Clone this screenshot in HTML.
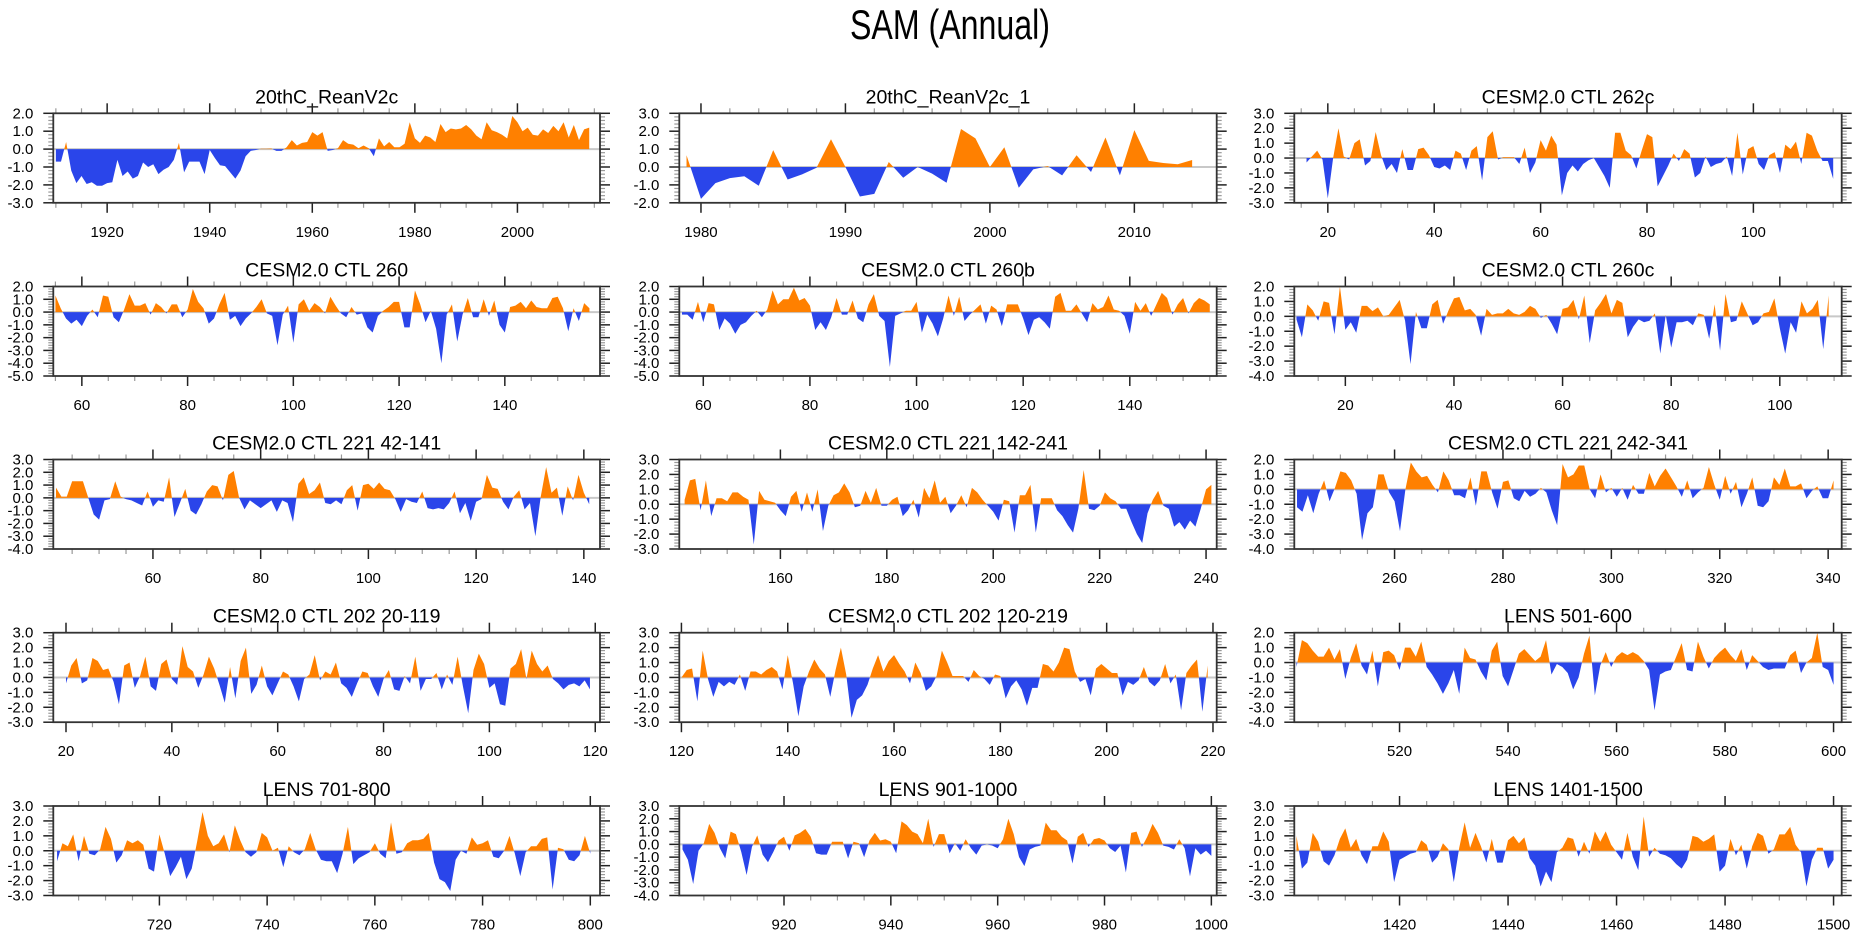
<!DOCTYPE html>
<html><head><meta charset="utf-8"><title>SAM (Annual)</title>
<style>
html,body{margin:0;padding:0;background:#fff;}
svg{display:block;font-family:"Liberation Sans",Arial,sans-serif;}
</style></head>
<body>
<svg id="chart" width="1861" height="936" viewBox="0 0 1861 936" xmlns="http://www.w3.org/2000/svg">
<text x="950" y="39" text-anchor="middle" font-size="42" textLength="200" lengthAdjust="spacingAndGlyphs" fill="#000">SAM (Annual)</text>
</svg>
<script>
const panelTitles = ["20thC_ReanV2c","20thC_ReanV2c_1","CESM2.0 CTL 262c","CESM2.0 CTL 260","CESM2.0 CTL 260b","CESM2.0 CTL 260c","CESM2.0 CTL 221 42-141","CESM2.0 CTL 221 142-241","CESM2.0 CTL 221 242-341","CESM2.0 CTL 202 20-119","CESM2.0 CTL 202 120-219","LENS 501-600","LENS 701-800","LENS 901-1000","LENS 1401-1500"];
const startYears = [1910,1979,16,55,56,11,42,142,242,20,120,501,701,901,1401];
const xMins = [1909.5,1978.5,13.7,54.6,55.5,10.6,41.5,141,241.5,17.6,119.6,500.6,700.3,900.4,1400.6];
const xMaxs = [2016.1,2015.7,116.6,158,156.3,111.4,143,242,342.5,120.9,220.7,601.5,801.8,1001,1501.5];
const yMins = [-3,-2,-3,-5,-5,-4,-4,-3,-4,-3,-3,-4,-3,-4,-3];
const yMaxs = [2,3,3,2,2,2,3,3,2,3,3,2,3,3,3];
const majorSteps = [20,10,20,20,20,20,20,20,20,20,20,20,20,20,20];
const minorSteps = [5,2,5,5,5,5,5,5,5,5,5,5,5,5,5];

const v0 = [-0.7,-0.7,0.4,-1.2,-1.9,-1.5,-1.95,-1.85,-2.05,-2.05,-1.9,-1.85,-0.6,-1.5,-1.25,-1.65,-1.5,-0.75,-1.0,-0.85,-1.4,-1.15,-1.0,-0.6,0.35,-1.3,-0.7,-0.7,-0.7,-1.4,-0.05,-0.5,-0.9,-0.95,-1.3,-1.65,-1.2,-0.4,-0.1,-0.05,0.02,0.02,0.03,-0.1,-0.1,0.1,0.5,0.2,0.35,0.4,0.95,0.75,0.95,-0.1,-0.05,0.05,0.5,0.3,0.25,0.05,0.2,0.05,-0.4,0.6,0.15,0.4,0.1,0.1,0.3,1.5,0.6,0.35,0.75,0.65,0.4,1.4,0.95,1.15,1.1,1.15,1.35,1.1,0.75,0.55,1.5,1.05,0.95,0.8,0.6,1.85,1.5,1.0,1.2,0.8,0.75,1.1,0.9,1.3,1.0,1.5,0.65,1.35,0.5,1.1,1.2];
const v1 = [0.66,-1.78,-0.9,-0.62,-0.52,-1.05,0.94,-0.7,-0.41,-0.04,1.55,0.0,-1.65,-1.5,0.28,-0.6,0.0,-0.37,-0.88,2.12,1.6,0.0,1.1,-1.16,-0.13,0.05,-0.47,0.66,-0.28,1.65,-0.47,2.06,0.34,0.22,0.15,0.39];
const v2 = [-0.3,0.1,0.5,-0.1,-2.7,0.0,2.0,0.1,-0.1,1.0,1.25,-0.5,-0.2,1.75,0.2,-0.8,-0.4,-1.0,0.6,-0.8,-0.8,0.6,0.7,0.2,-0.6,-0.7,-0.5,-0.8,0.5,0.3,-0.8,0.5,0.8,-1.5,1.4,1.8,-0.1,0.05,0.05,0.05,-0.4,0.7,-1.0,-0.3,1.2,0.5,1.5,0.9,-2.5,-1.0,-0.5,-0.9,-0.4,-0.15,0.0,-0.6,-1.2,-2.0,1.7,1.7,0.5,0.2,-0.7,0.5,1.6,1.4,-1.9,-1.2,-0.5,0.3,-0.2,0.6,0.3,-1.3,-1.0,0.1,-0.6,-0.4,-0.3,0.1,-1.2,1.7,-1.1,0.6,0.8,-0.4,-0.8,0.2,0.4,-1.0,0.9,0.6,1.1,-0.4,1.7,1.5,0.5,-0.2,-0.2,-1.4];
const v3 = [1.3,0.3,-0.5,-0.9,-0.6,-1.1,-0.3,0.2,-0.4,1.3,1.2,-0.4,-0.8,0.2,1.4,0.5,0.5,0.7,-0.2,0.7,0.4,-0.1,0.6,0.6,-0.4,0.2,1.8,0.8,0.3,-0.9,-0.5,0.6,1.5,-0.6,-0.3,-1.1,-0.5,-0.1,0.4,1.0,-0.1,-0.3,-2.6,-0.2,0.5,-2.4,0.6,1.0,0.1,0.7,0.4,-0.1,1.2,0.5,-0.1,-0.4,0.4,-0.2,-0.1,-1.2,-1.6,-0.3,0.1,0.4,0.8,0.8,-1.2,-1.2,1.7,0.6,-0.8,0.1,-1.3,-4.0,-0.2,0.6,-2.3,-0.2,1.1,-0.4,-0.4,1.0,-0.3,0.9,-1.0,-1.6,0.4,0.5,0.8,0.3,0.9,0.4,0.3,0.3,1.1,1.2,0.3,-1.5,0.3,-0.7,0.7,0.3];
const v4 = [-0.2,-0.2,-0.6,0.8,-0.8,0.7,0.6,-1.4,-0.5,-0.9,-1.7,-1.0,-0.8,-0.3,0.1,-0.4,0.2,1.7,0.6,1.0,1.0,1.9,0.9,1.1,0.5,-1.4,-0.8,-1.4,-0.4,1.1,-0.2,-0.2,0.9,-0.5,-0.8,0.6,1.4,-0.3,-0.7,-4.3,-0.3,-0.1,0.1,0.1,0.8,-1.6,-0.2,-0.9,-1.9,-0.5,1.3,-0.3,1.2,-0.7,-0.2,0.2,0.6,-0.9,0.5,0.2,-1.1,0.6,0.6,0.6,-0.5,-1.8,-0.6,-0.4,-0.8,-1.3,1.2,1.5,0.1,0.1,0.6,-0.1,-0.8,0.7,0.2,0.4,1.3,0.2,0.1,-0.3,-1.7,0.8,0.1,0.7,-0.3,0.6,1.5,1.1,-0.2,0.6,1.1,-0.1,0.7,1.1,0.9,0.6];
const v5 = [-0.2,-1.4,0.8,0.4,-0.3,1.0,0.9,-1.2,2.0,-0.9,-0.4,-1.1,0.7,0.7,0.35,0.6,0.0,0.1,0.6,1.1,-0.3,-3.2,0.3,-0.8,-0.8,0.8,1.1,-0.5,0.4,1.2,1.3,0.4,0.5,0.1,-1.3,0.5,0.1,0.2,0.2,0.5,0.2,0.1,0.3,0.7,0.5,-0.1,0.1,-0.5,-1.2,0.5,0.6,1.1,-0.2,1.4,-1.8,0.4,0.9,1.5,0.2,1.1,0.9,-1.4,-0.7,-0.2,-0.4,-0.3,0.2,-2.5,0.1,-2.1,-0.4,-0.4,-0.3,-0.6,0.2,0.1,-1.5,0.8,-2.3,1.5,-0.4,-0.3,1.0,0.2,-0.6,-0.4,0.2,0.3,1.2,-0.8,-2.5,-0.4,-1.1,1.0,0.2,0.5,1.1,-2.2,1.4];
const v6 = [0.8,0.1,0.1,1.3,1.3,1.3,0.0,-1.3,-1.7,-0.2,-0.1,1.3,0.1,-0.1,-0.2,-0.4,-0.6,0.5,-0.7,-0.2,-0.3,1.6,-1.5,-0.4,0.7,-1.0,-1.3,-0.5,0.5,1.0,0.9,-0.2,1.8,2.1,0.0,-0.9,-0.2,-0.5,-0.8,-0.5,-0.2,-1.1,-0.2,-0.4,-1.9,1.1,1.6,0.3,0.6,1.2,-0.4,-0.5,-0.2,-0.5,0.6,1.0,-1.0,1.0,1.1,0.7,1.2,0.7,0.6,-0.1,-1.1,-0.1,-0.3,-0.4,0.5,-0.8,-0.9,-0.8,-0.9,-0.4,0.5,-1.2,-0.4,-1.8,-0.3,-0.1,1.8,0.8,0.7,-0.3,-0.9,0.1,0.6,-0.9,-0.4,-3.0,0.1,2.4,0.4,0.8,-1.4,0.9,-0.2,1.8,0.4,-0.5];
const v7 = [0.3,1.6,1.7,-0.4,1.6,-0.8,0.4,0.4,0.2,0.8,0.8,0.5,0.3,-2.7,0.9,0.3,0.2,0.1,-0.4,-0.8,0.5,0.9,-0.5,0.8,-0.5,1.0,-1.8,-0.1,0.6,0.8,1.4,0.8,-0.2,-0.1,0.9,0.1,1.1,-0.1,-0.1,0.3,0.5,-0.8,-0.4,0.3,-0.9,1.1,0.4,1.6,0.1,0.5,-0.6,-0.1,0.6,-0.2,1.1,0.8,0.3,-0.1,-0.5,-1.1,0.3,0.2,-1.9,0.6,0.6,1.3,-1.9,0.4,0.4,0.4,-0.4,-0.8,-1.4,-1.9,-0.3,2.3,-0.3,-0.4,-0.1,0.8,0.4,0.2,-0.3,-0.3,-1.2,-2.0,-2.6,-0.6,0.3,0.9,-0.1,-0.3,-1.5,-1.2,-1.7,-1.1,-1.5,-0.3,1.0,1.3];
const v8 = [-1.2,-1.5,-0.4,-1.6,-0.3,0.6,-0.8,0.1,1.2,1.1,0.6,-0.3,-3.4,-1.6,-1.2,1.0,1.0,-0.2,-0.8,-2.8,0.0,1.8,1.2,0.8,0.9,0.3,-0.2,1.2,0.6,-0.4,-0.4,-0.6,0.8,-1.1,1.2,1.2,-0.2,-1.3,0.5,0.6,-0.6,-0.8,-0.1,-0.5,-0.3,0.1,-0.2,-1.4,-2.4,1.7,0.8,1.0,1.6,1.6,0.0,-0.6,1.0,-0.2,0.1,-0.5,0.1,-0.7,0.3,-0.3,-0.3,1.1,0.2,0.9,1.4,0.8,0.2,-0.5,0.6,-0.6,-0.2,0.1,1.5,0.3,-0.7,0.9,-0.3,0.5,-1.2,-0.3,0.8,-1.1,-1.2,-0.8,0.8,0.3,1.4,0.2,0.2,0.4,-0.6,-0.1,0.2,-0.6,-0.6,0.6];
const v9 = [-0.4,0.8,1.3,-0.4,-0.2,1.3,1.1,0.5,0.6,-0.3,-1.8,0.8,1.0,-0.7,0.1,1.4,-0.6,-0.9,0.9,1.2,-0.1,-0.5,2.1,0.7,0.4,-0.7,0.2,1.4,0.6,-0.5,-1.7,0.7,-1.4,1.1,2.0,-1.1,-0.5,0.8,-0.6,-1.2,-0.4,0.4,0.2,-0.6,-1.6,-0.1,0.2,1.5,-0.2,0.4,0.2,1.0,-0.4,-0.7,-1.3,-0.4,0.4,0.3,-0.6,-1.3,-0.1,0.5,-0.8,-0.9,0.1,-0.4,1.4,-0.9,-0.1,-0.1,0.3,-0.8,0.2,-0.5,1.4,-0.6,-2.4,0.5,1.6,0.9,-0.7,-0.4,-1.8,-1.9,0.6,0.9,1.9,-0.1,1.8,0.9,0.4,0.8,-0.1,-0.4,-0.8,-0.5,-0.4,-0.6,-0.2,-0.8];
const v10 = [0.0,0.5,0.6,-1.6,1.8,-0.1,-1.3,-0.3,-0.6,-0.3,-0.5,0.2,-0.9,0.4,0.4,0.2,0.5,0.7,0.4,-0.8,1.5,-0.4,-2.6,-0.6,0.4,1.2,0.6,0.2,-1.3,0.5,2.0,0.2,-2.7,-1.5,-1.2,-0.5,0.6,1.5,0.4,1.1,1.5,0.9,0.4,-0.4,1.0,0.3,-0.9,-0.6,0.1,1.8,1.0,0.1,0.1,0.1,-0.3,0.5,0.1,-0.1,-0.5,0.2,0.1,-1.4,-0.6,-0.2,-0.8,-1.9,-0.7,-0.7,0.9,0.8,0.4,1.0,2.0,1.9,0.4,-0.3,-0.1,-1.2,0.6,0.9,0.6,0.3,0.3,-1.2,-0.3,-0.5,-0.2,0.7,-0.3,-0.6,-0.2,0.9,-0.4,0.2,-2.2,0.3,0.8,1.2,-2.3,0.8];
const v11 = [-0.3,1.5,1.3,0.8,0.4,0.4,1.0,0.2,0.9,-1.1,0.3,1.3,-0.2,-0.8,0.8,-1.6,0.7,0.8,0.5,-0.5,1.0,1.0,0.4,1.4,-0.3,-0.8,-1.4,-2.1,-1.4,-0.5,-2.1,1.0,0.3,0.2,-0.6,-1.2,0.8,1.4,-0.9,-1.6,-0.5,0.6,0.9,0.5,0.1,0.4,1.5,-0.8,-0.1,-0.3,-0.7,-1.8,-1.0,0.6,1.8,-2.2,-0.2,0.7,-0.3,0.4,0.7,0.5,0.7,0.5,0.1,-0.5,-3.2,-0.8,-0.6,-0.5,0.4,1.3,-0.5,-0.6,1.4,0.4,-0.4,0.3,0.7,1.0,0.5,0.1,0.9,-0.5,0.5,0.1,-0.3,-0.5,-0.4,-0.4,-0.4,0.5,0.8,-0.7,0.0,0.3,2.0,-0.3,-0.5,-1.5];
const v12 = [-0.7,0.5,0.3,1.1,-0.7,1.0,-0.2,-0.3,0.1,1.6,0.8,-0.8,-0.3,0.7,0.5,0.7,0.4,-1.2,-1.4,1.1,-0.2,-1.7,-1.1,-0.4,-1.9,-1.2,0.6,2.6,1.0,0.3,0.5,1.1,-0.1,1.7,0.7,-0.1,-0.4,-0.1,1.2,0.9,0.0,0.2,-1.1,0.3,-0.1,-0.3,0.1,1.2,0.1,-0.6,-0.7,-0.7,-1.5,-0.2,1.6,-0.9,-0.5,-0.3,-0.1,0.5,-0.2,-0.5,1.9,-0.2,-0.1,0.5,0.7,0.7,0.8,1.2,-0.8,-1.9,-2.1,-2.7,-0.6,0.0,-0.2,0.9,0.4,0.5,0.7,-0.4,-0.5,0.0,1.0,-0.2,-1.7,-0.1,0.3,0.3,0.8,0.9,-2.6,0.2,0.1,-0.6,-0.7,-0.3,1.0,-0.2];
const v13 = [-0.4,-1.2,-3.1,-0.5,0.1,1.6,0.9,-0.3,-1.1,1.0,0.8,-0.6,-2.4,-0.2,0.7,-0.8,-1.4,-0.6,0.3,0.6,-0.5,0.7,0.9,1.2,0.6,-0.7,-0.8,-0.8,0.2,0.2,0.2,-1.1,0.2,0.1,-1.0,0.3,0.9,0.3,0.4,0.2,-0.7,1.8,1.5,1.0,0.8,0.1,2.0,-0.2,0.8,0.8,-0.7,0.1,-0.5,0.4,-0.3,-0.8,-0.1,0.0,-0.1,-0.3,0.4,2.0,0.8,-1.0,-1.7,-0.4,-0.2,-0.1,1.7,1.1,1.1,0.6,0.3,-1.5,0.6,0.9,-0.2,0.4,0.5,0.3,-0.3,-0.6,-0.1,-2.2,0.9,1.0,-0.2,0.6,1.6,0.9,-0.1,-0.2,-0.4,0.4,-0.3,-2.5,-0.3,-0.8,-0.5,-0.9];
const v14 = [1.0,-1.2,-0.8,1.2,0.6,-0.7,-1.0,-0.3,0.8,1.5,0.2,0.8,-0.3,-0.9,0.3,0.3,1.3,0.6,-2.1,-0.6,-0.4,-0.2,-0.1,0.7,0.4,-0.8,-0.4,0.5,0.1,-2.1,0.2,1.9,0.2,1.2,0.3,-0.8,0.8,-0.8,-0.8,0.7,1.0,0.5,0.9,-0.5,-1.0,-2.4,-1.4,-2.1,-0.1,0.2,0.9,0.8,-0.4,0.6,-0.2,1.3,0.6,1.3,0.4,-0.1,-0.6,1.2,-0.4,-1.3,2.3,-0.4,0.2,-0.2,-0.3,-0.5,-0.9,-1.2,-0.6,1.0,0.9,0.6,0.8,1.1,-1.4,-1.0,0.8,-0.3,0.4,-1.2,0.3,1.2,1.0,-0.2,0.1,1.1,1.1,1.6,0.4,-0.1,-2.4,-0.6,0.2,0.2,-1.2,-0.6];
const seriesValues = [v0,v1,v2,v3,v4,v5,v6,v7,v8,v9,v10,v11,v12,v13,v14];

const NS = "http://www.w3.org/2000/svg";
const svg = document.getElementById("chart");
const colLeft = [53.3, 679.3, 1294.3];
const colRight = [600, 1216.7, 1841.7];
const rowTop = [113.3, 286.5, 459.5, 632.7, 806];
const boxH = 89.5;

function mk(tag, attrs, parent) {
  const e = document.createElementNS(NS, tag);
  for (const k in attrs) e.setAttribute(k, attrs[k]);
  (parent || svg).appendChild(e);
  return e;
}
function slug(s){return s.toLowerCase().replace(/[^a-z0-9]+/g,'-').replace(/^-|-$/g,'');}

for (let p = 0; p < 15; p++) {
  const r = Math.floor(p / 3), c = p % 3;
  const L = colLeft[c], R = colRight[c], T = rowTop[r], B = T + boxH;
  const x0 = xMins[p], x1 = xMaxs[p], y0 = yMins[p], y1 = yMaxs[p];
  const sx = v => L + (v - x0) / (x1 - x0) * (R - L);
  const sy = v => B - (v - y0) / (y1 - y0) * (B - T);
  const g = mk("g", {});
  
  

  const title = mk("text", {x: (L + R) / 2, y: T - 10, "text-anchor": "middle", "font-size": 19.5}, g);
  title.textContent = panelTitles[p];
  
  

  const zl = mk("line", {x1: L, x2: R, y1: sy(0), y2: sy(0), stroke: "#c8c8c8", "stroke-width": 2}, g);
  
  

  const vals = seriesValues[p];
  const pts = [];
  for (let i = 0; i < vals.length; i++) {
    const xv = startYears[p] + i, yv = vals[i];
    if (i > 0) {
      const pv = vals[i - 1];
      if ((pv > 0 && yv < 0) || (pv < 0 && yv > 0)) {
        const t = pv / (pv - yv);
        pts.push([xv - 1 + t, 0]);
      }
    }
    pts.push([xv, yv]);
  }
  const first = pts[0][0], last = pts[pts.length - 1][0];
  function areaPath(fn) {
    let d = "M" + sx(first).toFixed(2) + "," + sy(0).toFixed(2);
    for (const q of pts) d += "L" + sx(q[0]).toFixed(2) + "," + sy(fn(q[1])).toFixed(2);
    d += "L" + sx(last).toFixed(2) + "," + sy(0).toFixed(2) + "Z";
    return d;
  }
  const pos = mk("path", {d: areaPath(v => Math.max(v, 0)), fill: "#ff8000"}, g);
  
  
  const neg = mk("path", {d: areaPath(v => Math.min(v, 0)), fill: "#2a45ea"}, g);
  
  

  for (let k = Math.round(y0 * 5); k <= Math.round(y1 * 5); k++) {
    const yv = k / 5, yy = sy(yv), major = (k % 5 === 0);
    const len = major ? 10 : 5, col = major ? "#222" : "#999";
    mk("line", {x1: L - len, x2: L, y1: yy, y2: yy, stroke: col, "stroke-width": major ? 1.5 : 1.2}, g);
    mk("line", {x1: R, x2: R + len, y1: yy, y2: yy, stroke: col, "stroke-width": major ? 1.5 : 1.2}, g);
    if (major) {
      const t = mk("text", {x: L - 20, y: yy + 5, "text-anchor": "end", "font-size": 15}, g);
      t.textContent = yv.toFixed(1);
      
      
    }
  }
  const ms = minorSteps[p], MS = majorSteps[p];
  for (let xv = Math.ceil(x0 / ms) * ms; xv <= x1; xv += ms) {
    const xx = sx(xv), major = (xv % MS === 0);
    const len = major ? 10 : 5, col = major ? "#222" : "#999";
    mk("line", {x1: xx, x2: xx, y1: T - len, y2: T, stroke: col, "stroke-width": major ? 1.5 : 1.2}, g);
    mk("line", {x1: xx, x2: xx, y1: B, y2: B + len, stroke: col, "stroke-width": major ? 1.5 : 1.2}, g);
    if (major) {
      const t = mk("text", {x: xx, y: B + 34, "text-anchor": "middle", "font-size": 15}, g);
      t.textContent = String(xv);
      
      
    }
  }
  const box = mk("rect", {x: L, y: T, width: R - L, height: B - T, fill: "none", stroke: "#333", "stroke-width": 1.8}, g);
  
  
}
</script>
</body></html>
